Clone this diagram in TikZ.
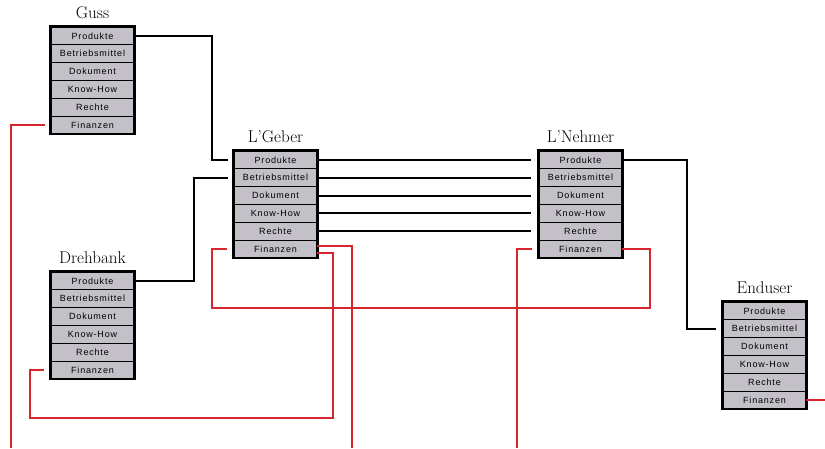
\documentclass[tikz,border=0pt]{standalone}
\usepackage{fontspec}
\newfontfamily\rowfont[LetterSpace=9]{Liberation Sans}
\usetikzlibrary{fit,calc}
\definecolor{boxgray}{HTML}{C3C0C8}
\definecolor{lred}{HTML}{D8262E}
\tikzset{
  rowbox/.style={draw=black, line width=0.8pt, fill=boxgray, minimum width=83pt, minimum height=17.8pt, inner sep=0pt, font=\rowfont\fontsize{9}{10}\selectfont},
  outerbox/.style={draw=black, line width=2.4pt, inner sep=0pt},
  titlelabel/.style={font=\fontsize{17}{19}\selectfont, anchor=base, inner sep=0pt},
  blk/.style={draw=black, line width=2pt},
  rd/.style={draw=lred, line width=2pt},
}
\newcommand\entitybox[4]{% name, x left, y top, label
  \foreach \t [count=\i] in {Produkte,Betriebsmittel,Dokument,Know-How,Rechte,Finanzen}{
    \node[rowbox] (#1-\i) at ({#2+41.5},{#3+8.9+(\i-1)*17.8}) {\t};
  }
  \node[outerbox, fit=(#1-1)(#1-6)] (#1) {};
  \node[titlelabel] (#1-label) at ($(#1.north)+(0,6.5pt)$) {#4};
}
\begin{document}
\begin{tikzpicture}[x=1pt,y=-1pt]
\useasboundingbox (0,0) rectangle (825,448);
\entitybox{guss}{51}{27}{Guss}
\entitybox{dreh}{51}{272}{Drehbank}
\entitybox{geber}{234}{151}{L’Geber}
\entitybox{nehmer}{539}{151}{L’Nehmer}
\entitybox{end}{723}{302}{Enduser}
% black connectors
\draw[blk] (guss-1.east) -- ++(78,0) |- ([xshift=-6pt]geber-1.west);
\draw[blk] (dreh-1.east) -- ++(60,0) |- ([xshift=-6pt]geber-2.west);
\foreach \k in {1,...,5}{
  \draw[blk] (geber-\k.east) -- ([xshift=-8pt]nehmer-\k.west);
}
\draw[blk] (nehmer-1.east) -- ++(65,0) |- ([xshift=-7pt]end-2.west);
% red connectors
\coordinate (r1) at (11,448);
\coordinate (r2) at (352,448);
\coordinate (r3) at (517,448);
\coordinate (c1) at (650,308);
\coordinate (c2) at (212,308);
\coordinate (c3) at (333,418);
\coordinate (c4) at (30,418);
\coordinate (r4) at (825,399);
\draw[rd] ([xshift=-6pt]guss-6.west) -| (r1);
\draw[rd] (nehmer-6.east) -| (c1) -- (c2) |- ([xshift=-7pt]geber-6.west);
\draw[rd] ([yshift=3pt]geber-6.east) -| (r2);
\draw[rd] ([yshift=-4pt]geber-6.east) -| (c3) -- (c4) |- ([xshift=-7pt]dreh-6.west);
\draw[rd] ([xshift=-7pt]nehmer-6.west) -| (r3);
\draw[rd] (end-6.east) -- (end-6.east -| r4);
\end{tikzpicture}
\end{document}
